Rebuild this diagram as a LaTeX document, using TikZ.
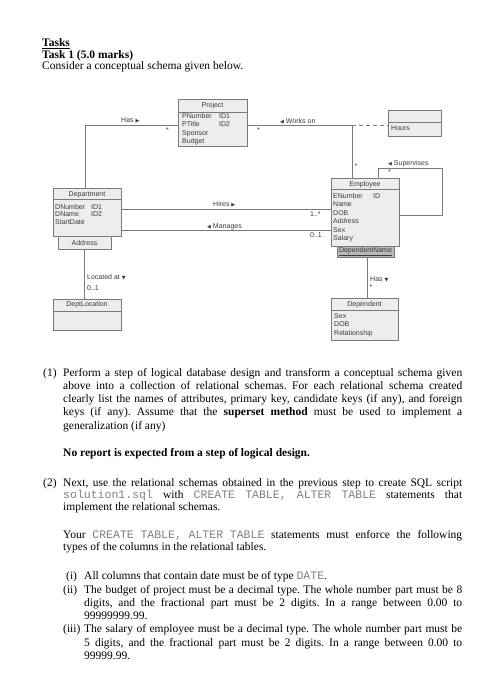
\documentclass[tikz,border=0pt]{standalone}
\usepackage{fontspec}
\setmainfont{Liberation Serif}
\newfontfamily\dsans{Liberation Sans}
\newfontfamily\dsym{DejaVu Sans}
\newfontfamily\mono{Liberation Mono}
\definecolor{boxfill}{HTML}{EDEDED}
\definecolor{boxline}{HTML}{7A7A7A}
\definecolor{dtextc}{HTML}{3A3A3A}
\definecolor{connc}{HTML}{7A7A7A}
\definecolor{monoc}{HTML}{808080}
\definecolor{keyfill}{HTML}{B8B8B8}
\newcommand{\rt}{{\dsym\fontsize{5}{5}\selectfont ▶}}
\newcommand{\lt}{{\dsym\fontsize{5}{5}\selectfont ◀}}
\newcommand{\dt}{{\dsym\fontsize{5}{5}\selectfont ▼}}
\newcommand{\mn}[1]{{\mono\color{monoc}#1}}
\frenchspacing
\tikzset{
  ebox/.style={draw=boxline, fill=boxfill, line width=0.7pt, inner sep=0pt},
  sepline/.style={draw=boxline, line width=0.7pt},
  dtext/.style={font=\dsans\fontsize{7}{8}\selectfont, text=dtextc, inner sep=0pt, anchor=base west},
  dhead/.style={font=\dsans\fontsize{7}{8}\selectfont, text=dtextc, inner sep=0pt},
  conn/.style={draw=connc, line width=0.7pt},
  body/.style={font=\fontsize{11.5}{13.3}\selectfont\frenchspacing, inner sep=0pt, anchor=base west},
}
\begin{document}
\begin{tikzpicture}[x=1pt,y=-1pt]
\useasboundingbox[fill=white] (0,0) rectangle (500,700);

% ---------- title ----------
\node[body] (tt1) at (42,47) {\underline{\textbf{Tasks}}};
\node[body] (tt2) at (42,58.5) {\textbf{Task 1 (5.0 marks)}};
\node[body] (tt3) at (42,70) {Consider a conceptual schema given below.};

% ---------- entities ----------
% Project
\node[ebox, minimum width=69pt, minimum height=47pt] (proj) at (212.5,122.5) {};
\draw[sepline] (proj.west|-0,112) -- (proj.east|-0,112);
\node[dhead] (projH) at (212.5,105.5) {Project};
\node[dtext] (pa1) at (182,118.5) {PNumber};
\node[dtext] (pk1) at (219,118.5) {ID1};
\node[dtext] (pa2) at (182,126.8) {PTitle};
\node[dtext] (pk2) at (219,126.8) {ID2};
\node[dtext] (pa3) at (182,135.1) {Sponsor};
\node[dtext] (pa4) at (182,143.4) {Budget};

% Hours
\node[ebox, minimum width=53pt, minimum height=26pt] (hours) at (414.5,123) {};
\draw[sepline] (hours.west|-0,122) -- (hours.east|-0,122);
\node[dtext] (ha1) at (391,130.5) {Hours};

% Employee
\node[ebox, minimum width=68pt, minimum height=68pt] (emp) at (365,212) {};
\draw[sepline] (emp.west|-0,189) -- (emp.east|-0,189);
\node[dhead] (empH) at (365,184.5) {Employee};
\node[dtext] (ea1) at (333,198.5) {ENumber};
\node[dtext] (ek1) at (373,198.5) {ID};
\node[dtext] (ea2) at (333,206.9) {Name};
\node[dtext] (ea3) at (333,215.3) {DOB};
\node[dtext] (ea4) at (333,223.7) {Address};
\node[dtext] (ea5) at (333,232.1) {Sex};
\node[dtext] (ea6) at (333,240.5) {Salary};

% DependentName (partial key)
\node[draw=boxline, fill=keyfill, line width=0.7pt, inner sep=0pt, minimum width=57pt, minimum height=11pt] (depname) at (365.5,251.5) {};
\node[dhead] (depnameT) at (365.5,251.5) {\underline{DependentName}};

% Department
\node[ebox, minimum width=68pt, minimum height=48pt] (dept) at (87,212) {};
\draw[sepline] (dept.west|-0,199) -- (dept.east|-0,199);
\node[dhead] (deptH) at (87,194.5) {Department};
\node[dtext] (da1) at (55,209.5) {DNumber};
\node[dtext] (dk1) at (91,209.5) {ID1};
\node[dtext] (da2) at (55,216.8) {DName};
\node[dtext] (dk2) at (91,216.8) {ID2};
\node[dtext] (da3) at (55,224.1) {StartDate};

% Address (multivalued)
\node[ebox, minimum width=53pt, minimum height=13pt] (addr) at (84.5,242.5) {};
\node[dhead] (addrT) at (84.5,242.5) {Address};

% DeptLocation
\node[ebox, minimum width=68pt, minimum height=31pt] (dloc) at (87,314.5) {};
\draw[sepline] (dloc.west|-0,311) -- (dloc.east|-0,311);
\node[dhead] (dlocH) at (87,305) {DeptLocation};

% Dependent
\node[ebox, minimum width=67pt, minimum height=42pt] (dep) at (364.5,319) {};
\draw[sepline] (dep.west|-0,310) -- (dep.east|-0,310);
\node[dhead] (depH) at (364.5,304.5) {Dependent};
\node[dtext] (pe1) at (334,318.5) {Sex};
\node[dtext] (pe2) at (334,326.8) {DOB};
\node[dtext] (pe3) at (334,335.1) {Relationship};

% ---------- connectors ----------
\coordinate (hasC) at (85,125);
\draw[conn] (proj.west|-hasC) -- (hasC) -- (hasC|-dept.north);
\coordinate (wC) at (352,125.5);
\draw[conn] (proj.east|-wC) -- (wC) -- (wC|-emp.north);
\draw[conn, dash pattern=on 4pt off 3pt] (wC) -- (hours.west|-wC);
\coordinate (s1) at (378,168);
\coordinate (s2) at (442,215);
\draw[conn] (s1|-emp.north) -- (s1) -| (s2) -- (emp.east|-s2);
\coordinate (hiC) at (0,209);
\draw[conn] (dept.east|-hiC) -- (emp.west|-hiC);
\coordinate (maC) at (0,230.5);
\draw[conn] (dept.east|-maC) -- (emp.west|-maC);
\coordinate (locC) at (84,0);
\draw[conn] (addr.south-|locC) -- (dloc.north-|locC);
\coordinate (dhC) at (367,0);
\draw[conn] (depname.south-|dhC) -- (dep.north-|dhC);

% ---------- connector labels ----------
\node[dtext] (lHas) at (121,122.5) {Has \rt};
\node[dtext] (m1) at (166,133) {*};
\node[dtext] (m2) at (257,133) {*};
\node[dtext] (lWorks) at (280,123.5) {\lt\ Works on};
\node[dtext] (m3) at (354.5,169) {*};
\node[dtext] (lSup) at (388,165.5) {\lt\ Supervises};
\node[dtext] (m4) at (388,175) {*};
\node[dtext] (lHires) at (213,206.5) {Hires \rt};
\node[dtext] (m5) at (310,216.5) {1..*};
\node[dtext] (lMan) at (207,228.5) {\lt\ Manages};
\node[dtext] (m6) at (310,237.5) {0..1};
\node[dtext] (lLoc) at (87,279.5) {Located at \dt};
\node[dtext] (m7) at (87,290.5) {0..1};
\node[dtext] (lHas2) at (370,281.5) {Has \dt};
\node[dtext] (m8) at (369.5,289) {*};

% ---------- body text ----------
\node[body] (n1) at (43,376) {(1)};
\node[body] (p1a) at (63,376) {\makebox[399pt][s]{Perform a step of logical database design and transform a conceptual schema given}};
\node[body] (p1b) at (63,389.3) {\makebox[399pt][s]{above into a collection of relational schemas. For each relational schema created}};
\node[body] (p1c) at (63,402.6) {\makebox[399pt][s]{clearly list the names of attributes, primary key, candidate keys (if any), and foreign}};
\node[body] (p1d) at (63,415.9) {\makebox[399pt][s]{keys (if any). Assume that the \textbf{superset method} must be used to implement a}};
\node[body] (p1e) at (63,429.2) {generalization (if any)};
\node[body] (p1f) at (63,456) {\textbf{No report is expected from a step of logical design.}};

\node[body] (n2) at (43,486) {(2)};
\node[body] (p2a) at (63,486) {\makebox[399pt][s]{Next, use the relational schemas obtained in the previous step to create SQL script}};
\node[body] (p2b) at (63,498.5) {\makebox[399pt][s]{\mn{solution1.sql} with \mn{CREATE} \mn{TABLE,} \mn{ALTER} \mn{TABLE} statements that}};
\node[body] (p2c) at (63,510.8) {implement the relational schemas.};
\node[body] (p2d) at (63,538) {\makebox[399pt][s]{Your \mn{CREATE} \mn{TABLE,} \mn{ALTER} \mn{TABLE} statements must enforce the following}};
\node[body] (p2e) at (63,550.3) {types of the columns in the relational tables.};

\node[body] (li1) at (66,579) {(i)};
\node[body] (l1a) at (84,579) {All columns that contain date must be of type \mn{DATE}.};
\node[body] (li2) at (63,593) {(ii)};
\node[body] (l2a) at (84,593) {\makebox[378pt][s]{The budget of project must be a decimal type. The whole number part must be 8}};
\node[body] (l2b) at (84,606.3) {\makebox[378pt][s]{digits, and the fractional part must be 2 digits. In a range between 0.00 to}};
\node[body] (l2c) at (84,619.6) {99999999.99.};
\node[body] (li3) at (63,632.6) {(iii)};
\node[body] (l3a) at (84,632.6) {\makebox[378pt][s]{The salary of employee must be a decimal type. The whole number part must be}};
\node[body] (l3b) at (84,646) {\makebox[378pt][s]{5 digits, and the fractional part must be 2 digits. In a range between 0.00 to}};
\node[body] (l3c) at (84,659.3) {99999.99.};
\end{tikzpicture}
\end{document}
